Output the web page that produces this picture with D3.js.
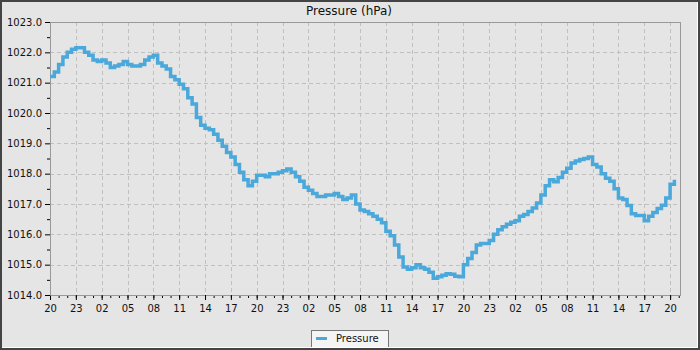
<!DOCTYPE html>
<html>
<head>
<meta charset="utf-8">
<script src="https://cdn.jsdelivr.net/npm/d3@7"></script>
<style>
  body { margin: 0; background: #e5e5e5; }
  text { font-family: "DejaVu Sans", sans-serif; }
</style>
</head>
<body>
<svg width="700" height="350"></svg>
<script>
/* Pressure readings, one every 30 minutes starting 20:00 */
var title = "Pressure (hPa)";
var seriesName = "Pressure";
var startTime = new Date(2023, 5, 10, 20, 0);
var stepMinutes = 30;
var pressure = [
    1021.2, 1021.35, 1021.6, 1021.85, 1022.0, 1022.1, 1022.15, 1022.15, 1022.0, 1021.9,
    1021.75, 1021.7, 1021.75, 1021.65, 1021.5, 1021.55, 1021.6, 1021.7, 1021.6, 1021.55,
    1021.55, 1021.6, 1021.75, 1021.85, 1021.9, 1021.65, 1021.55, 1021.45, 1021.2, 1021.1,
    1020.95, 1020.8, 1020.5, 1020.3, 1019.85, 1019.6, 1019.5, 1019.45, 1019.3, 1019.1,
    1018.9, 1018.7, 1018.55, 1018.3, 1018.05, 1017.8, 1017.6, 1017.75, 1017.95, 1017.95,
    1017.9, 1018.0, 1018.0, 1018.05, 1018.1, 1018.15, 1018.05, 1017.9, 1017.75, 1017.55,
    1017.45, 1017.35, 1017.25, 1017.25, 1017.3, 1017.3, 1017.35, 1017.25, 1017.15, 1017.2,
    1017.3, 1017.0, 1016.8, 1016.75, 1016.68, 1016.6, 1016.5, 1016.38, 1016.1, 1015.95,
    1015.65, 1015.25, 1014.92, 1014.85, 1014.9, 1015.0, 1014.9, 1014.85, 1014.75, 1014.55,
    1014.6, 1014.65, 1014.7, 1014.68, 1014.62, 1014.6, 1015.0, 1015.2, 1015.4, 1015.65,
    1015.7, 1015.7, 1015.8, 1016.0, 1016.15, 1016.25, 1016.33, 1016.4, 1016.45, 1016.6,
    1016.65, 1016.75, 1016.87, 1017.03, 1017.3, 1017.6, 1017.8, 1017.73, 1017.87, 1018.05,
    1018.18, 1018.35, 1018.42, 1018.47, 1018.5, 1018.55, 1018.3, 1018.22, 1018.0, 1017.85,
    1017.75, 1017.5, 1017.2, 1017.15, 1016.95, 1016.68, 1016.62, 1016.62, 1016.45, 1016.6,
    1016.72, 1016.85, 1016.96, 1017.2, 1017.65, 1017.8
];
var yTicks = [1014, 1015, 1016, 1017, 1018, 1019, 1020, 1021, 1022, 1023];

var data = pressure.map(function (v, i) {
    return {time: d3.timeMinute.offset(startTime, i * stepMinutes), value: v};
});

var svg = d3.select("svg"),
    margin = {top: 22, right: 20, bottom: 55, left: 50},
    width = 630,
    height = 273;

svg.append("rect")
    .attr("x", 0).attr("y", 0)
    .attr("width", 700).attr("height", 350)
    .attr("fill", "#e5e5e5");

var x = d3.scaleTime()
    .domain([startTime, d3.timeMinute.offset(startTime, 73.15 * 60)])
    .range([0, width]);
var y = d3.scaleLinear().domain([1014, 1023]).range([height, 0]);

var g = svg.append("g")
    .attr("transform", "translate(" + margin.left + "," + margin.top + ")");

var majorHours = d3.timeHour.filter(function (d) { return d.getHours() % 3 === 2; });
var xMajor = majorHours.range(startTime, x.domain()[1]);
var xMinor = d3.timeHour.range(startTime, x.domain()[1]);
var yMinor = d3.range(1014.5, 1023, 1);

/* grid */
g.selectAll(".hgrid")
    .data(yTicks.slice(1, -1))
    .enter().append("line")
    .attr("x1", 0).attr("x2", width)
    .attr("y1", function (d) { return Math.round(y(d)) + 0.5; })
    .attr("y2", function (d) { return Math.round(y(d)) + 0.5; })
    .attr("stroke", "#c0c0c0")
    .attr("stroke-dasharray", "4,3");

g.selectAll(".vgrid")
    .data(xMajor.slice(1))
    .enter().append("line")
    .attr("y1", 0).attr("y2", height)
    .attr("x1", function (d) { return Math.round(x(d)) + 0.5; })
    .attr("x2", function (d) { return Math.round(x(d)) + 0.5; })
    .attr("stroke", "#c0c0c0")
    .attr("stroke-dasharray", "4,3");

/* frame */
g.append("rect")
    .attr("x", 0.5).attr("y", 0.5)
    .attr("width", width).attr("height", height)
    .attr("fill", "none")
    .attr("stroke", "#999");

/* axes */
g.append("g")
    .attr("transform", "translate(0," + height + ")")
    .call(d3.axisBottom(x).tickValues(xMinor).tickSize(3).tickSizeOuter(0).tickFormat(""));
g.append("g")
    .attr("transform", "translate(0," + height + ")")
    .call(d3.axisBottom(x).tickValues(xMajor).tickSize(5).tickSizeOuter(0)
        .tickPadding(5).tickFormat(d3.timeFormat("%H")));

g.append("g")
    .call(d3.axisLeft(y).tickValues(yMinor).tickSize(3).tickSizeOuter(0).tickFormat(""));
g.append("g")
    .call(d3.axisLeft(y).tickValues(yTicks).tickSize(5).tickSizeOuter(0)
        .tickPadding(3).tickFormat(d3.format(".1f")));

g.selectAll(".domain").attr("stroke", "#999");
g.selectAll(".tick line").attr("stroke", "#000");
g.selectAll(".tick text")
    .attr("fill", "#111")
    .style("font-size", "10px")
    .style("font-family", "DejaVu Sans, sans-serif");

/* line */
var line = d3.line()
    .curve(d3.curveStepAfter)
    .x(function (d) { return x(d.time); })
    .y(function (d) { return y(d.value); });

g.append("path")
    .datum(data)
    .attr("fill", "none")
    .attr("stroke", "#4ba8da")
    .attr("stroke-width", 3.5)
    .attr("d", line);

/* title */
svg.append("text")
    .attr("x", 349)
    .attr("y", 15)
    .attr("text-anchor", "middle")
    .attr("fill", "#111")
    .style("font-size", "12px")
    .text(title);

/* legend */
var legend = svg.append("g");
legend.append("rect")
    .attr("x", 311.5).attr("y", 330.5)
    .attr("width", 77).attr("height", 17)
    .attr("fill", "#f4f4f4")
    .attr("stroke", "#777");
legend.append("line")
    .attr("x1", 316).attr("x2", 327)
    .attr("y1", 338.5).attr("y2", 338.5)
    .attr("stroke", "#4ba8da")
    .attr("stroke-width", 3);
legend.append("text")
    .attr("x", 336)
    .attr("y", 342)
    .attr("fill", "#111")
    .style("font-size", "10px")
    .text(seriesName);

/* outer border */
svg.append("rect")
    .attr("x", 1).attr("y", 1)
    .attr("width", 698).attr("height", 348)
    .attr("fill", "none")
    .attr("stroke", "#444")
    .attr("stroke-width", 2);
svg.append("path")
    .attr("d", "M697.5,2V347.5H2")
    .attr("fill", "none")
    .attr("stroke", "#fff");
</script>
</body>
</html>
